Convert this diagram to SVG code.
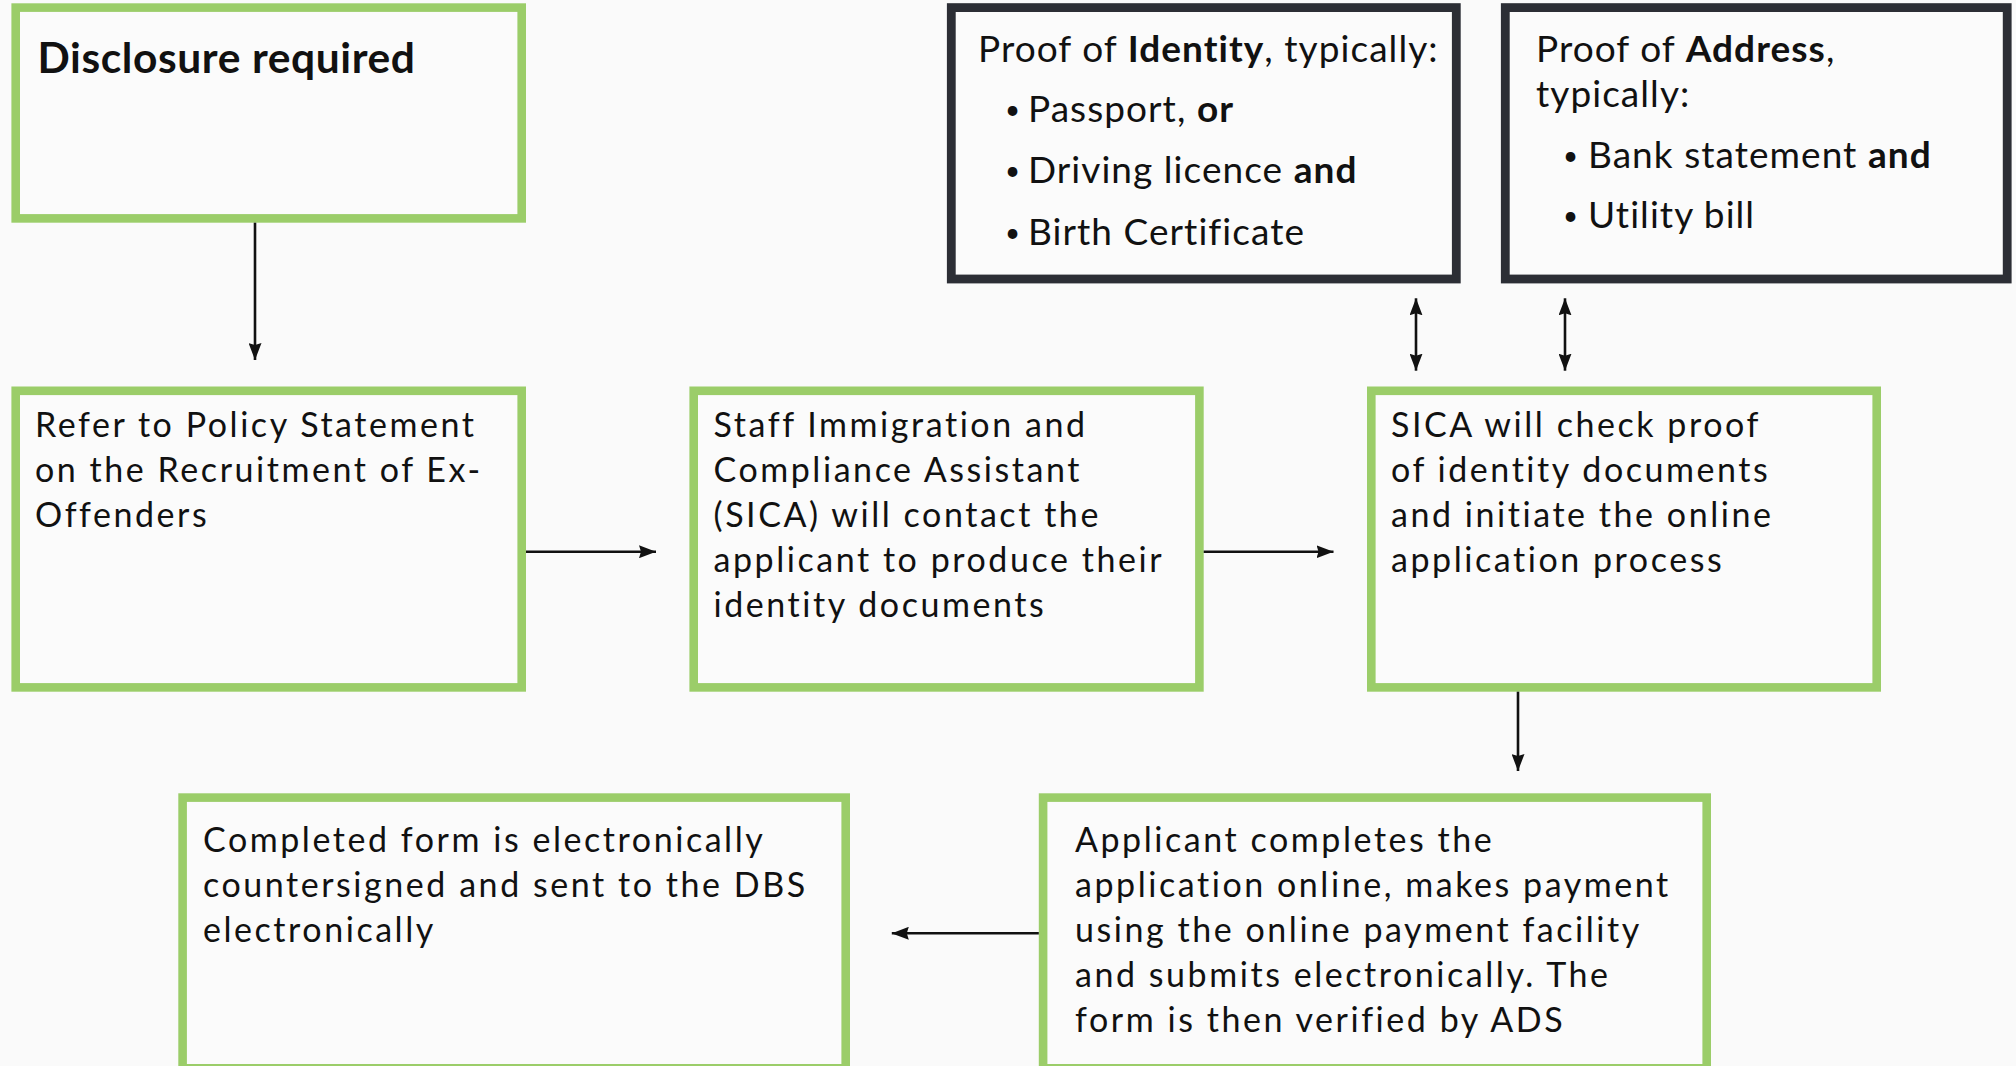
<svg xmlns="http://www.w3.org/2000/svg" width="2016" height="1066" viewBox="0 0 2016 1066">
<defs>
<style>
.bg{fill:#fafafa}
.g{fill:#fbfbfb;stroke:#9bcd69;stroke-width:8.6}
.d{fill:#fbfbfb;stroke:#2c2e35;stroke-width:8.8}
.t{font-family:Lato,"Liberation Sans",sans-serif;font-size:34px;letter-spacing:2.55px;fill:#111}
.tt{font-family:Lato,"Liberation Sans",sans-serif;font-size:37px;letter-spacing:1.05px;fill:#111}
.h{font-family:Lato,"Liberation Sans",sans-serif;font-size:42.5px;font-weight:bold;letter-spacing:0.6px;fill:#111}
.b{font-weight:bold}
.bu{font-size:26px}
.c{stroke:#111;stroke-width:2.6;fill:none}
</style>
<marker id="ah" viewBox="0 0 17 13" refX="17" refY="6.5" markerWidth="17" markerHeight="13" orient="auto-start-reverse" markerUnits="userSpaceOnUse">
<path d="M0,0 L17,6.5 L0,13 L2,6.5 Z" fill="#111"/>
</marker>
</defs>
<rect class="bg" x="0" y="0" width="2016" height="1066"/>

<g id="node-disclosure">
<rect class="g" x="15.7" y="7.6" width="506" height="210.8"/>
<text class="h" x="37.5" y="73.3">Disclosure required</text>
</g>

<g id="node-identity">
<rect class="d" x="951.3" y="7.6" width="505" height="271.4"/>
<text class="tt" x="978" y="61.7">Proof of <tspan class="b">Identity</tspan>, typically:</text>
<text class="tt" y="121.7"><tspan class="bu" x="1005" dy="-3">•</tspan><tspan x="1028" dy="3">Passport, </tspan><tspan class="b">or</tspan></text>
<text class="tt" y="183.3"><tspan class="bu" x="1005" dy="-3">•</tspan><tspan x="1028" dy="3">Driving licence </tspan><tspan class="b">and</tspan></text>
<text class="tt" y="245"><tspan class="bu" x="1005" dy="-3">•</tspan><tspan x="1028" dy="3">Birth Certificate</tspan></text>
</g>

<g id="node-address">
<rect class="d" x="1505.3" y="7.6" width="501.9" height="271.4"/>
<text class="tt" x="1536" y="61.7">Proof of <tspan class="b">Address</tspan>,</text>
<text class="tt" x="1536" y="106.7">typically:</text>
<text class="tt" y="168.3"><tspan class="bu" x="1563" dy="-3">•</tspan><tspan x="1588" dy="3">Bank statement </tspan><tspan class="b">and</tspan></text>
<text class="tt" y="228.3"><tspan class="bu" x="1563" dy="-3">•</tspan><tspan x="1588" dy="3">Utility bill</tspan></text>
</g>

<g id="node-refer">
<rect class="g" x="15.7" y="390.8" width="506" height="296.6"/>
<text class="t" x="35" y="436.7">Refer to Policy Statement</text>
<text class="t" x="35" y="481.7">on the Recruitment of Ex-</text>
<text class="t" x="35" y="526.7">Offenders</text>
</g>

<g id="node-sica-contact">
<rect class="g" x="693.7" y="390.8" width="505.7" height="296.6"/>
<text class="t" x="713.5" y="436.7">Staff Immigration and</text>
<text class="t" x="713.5" y="481.7">Compliance Assistant</text>
<text class="t" x="713.5" y="526.7">(SICA) will contact the</text>
<text class="t" x="713.5" y="571.7">applicant to produce their</text>
<text class="t" x="713.5" y="616.7">identity documents</text>
</g>

<g id="node-sica-check">
<rect class="g" x="1371.3" y="390.8" width="505.4" height="296.6"/>
<text class="t" x="1391" y="436.7">SICA will check proof</text>
<text class="t" x="1391" y="481.7">of identity documents</text>
<text class="t" x="1391" y="526.7">and initiate the online</text>
<text class="t" x="1391" y="571.7">application process</text>
</g>

<g id="node-applicant">
<rect class="g" x="1043.1" y="797.6" width="663.6" height="270.7"/>
<text class="t" x="1075" y="851.7">Applicant completes the</text>
<text class="t" x="1075" y="896.7">application online, makes payment</text>
<text class="t" x="1075" y="941.7">using the online payment facility</text>
<text class="t" x="1075" y="986.7">and submits electronically. The</text>
<text class="t" x="1075" y="1031.7">form is then verified by ADS</text>
</g>

<g id="node-completed">
<rect class="g" x="182.6" y="797.6" width="663.1" height="270.7"/>
<text class="t" x="203" y="851.7">Completed form is electronically</text>
<text class="t" x="203" y="896.7">countersigned and sent to the DBS</text>
<text class="t" x="203" y="941.7">electronically</text>
</g>

<g id="connectors">
<line class="c" x1="255" y1="222.7" x2="255" y2="360" marker-end="url(#ah)"/>
<line class="c" x1="526" y1="551.7" x2="656" y2="551.7" marker-end="url(#ah)"/>
<line class="c" x1="1203.7" y1="551.7" x2="1333.5" y2="551.7" marker-end="url(#ah)"/>
<line class="c" x1="1518" y1="691.7" x2="1518" y2="771" marker-end="url(#ah)"/>
<line class="c" x1="1038.8" y1="933.3" x2="891.8" y2="933.3" marker-end="url(#ah)"/>
<line class="c" x1="1416" y1="298.3" x2="1416" y2="370.7" marker-start="url(#ah)" marker-end="url(#ah)"/>
<line class="c" x1="1565" y1="298.3" x2="1565" y2="370.7" marker-start="url(#ah)" marker-end="url(#ah)"/>
</g>
</svg>
